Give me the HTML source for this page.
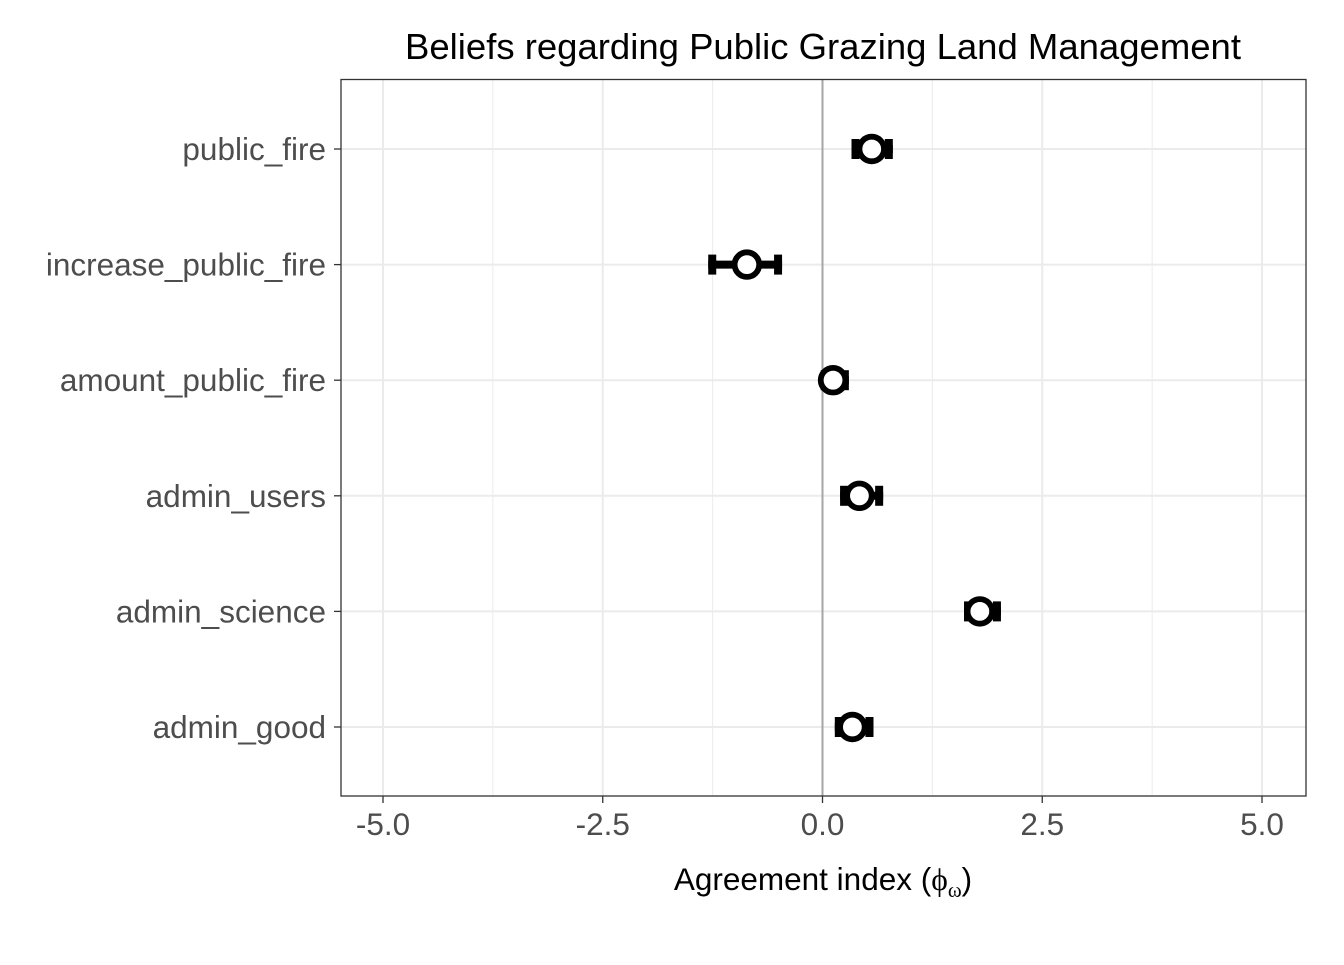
<!DOCTYPE html>
<html><head><meta charset="utf-8"><style>
body{margin:0;background:#fff}
svg text{font-family:"Liberation Sans",sans-serif}
</style></head><body>
<svg id="chart" width="1344" height="960">
<text x="823" y="59" font-size="36.5" text-anchor="middle" fill="#000">Beliefs regarding Public Grazing Land Management</text>
<g id="grid"></g>
<g id="marks"></g>
<rect x="341" y="79.5" width="965" height="716.5" fill="none" stroke="#333" stroke-width="1.3"/>
<text x="823" y="890" font-size="31.5" text-anchor="middle" fill="#000">Agreement index (<tspan font-family="Liberation Serif">ϕ</tspan><tspan font-family="Liberation Serif" font-size="21" dy="7">ω</tspan><tspan dy="-7">)</tspan></text>
</svg>
<script>
const categories=["public_fire","increase_public_fire","amount_public_fire","admin_users","admin_science","admin_good"];
const estimates=[0.56,-0.86,0.12,0.42,1.79,0.34];
const lowers=[0.33,-1.30,-0.02,0.20,1.61,0.14];
const uppers=[0.80,-0.46,0.30,0.69,2.03,0.58];
const xTicks=[-5,-2.5,0,2.5,5];
const xTickLabels=["-5.0","-2.5","0.0","2.5","5.0"];
const ns="http://www.w3.org/2000/svg";
const X=v=>822.5+v*87.9;
const Y=i=>149+i*115.6;
const grid=document.getElementById('grid'),marks=document.getElementById('marks');
function mk(p,tag,a){const e=document.createElementNS(ns,tag);for(const k in a)e.setAttribute(k,a[k]);p.appendChild(e);return e;}
[-3.75,-1.25,1.25,3.75].forEach(v=>{const l=mk(grid,'line',{x1:X(v),x2:X(v),y1:80,y2:796,stroke:'#ebebeb','stroke-width':1});

});
xTicks.forEach((v,i)=>{const l=mk(grid,'line',{x1:X(v),x2:X(v),y1:80,y2:796,stroke:'#ebebeb','stroke-width':2});


const t=mk(grid,'line',{x1:X(v),x2:X(v),y1:796,y2:803,stroke:'#333','stroke-width':1.3});


const tx=mk(grid,'text',{x:X(v),y:835,'font-size':31.5,'text-anchor':'middle',fill:'#4d4d4d'});tx.textContent=xTickLabels[i];

});
categories.forEach((c,i)=>{const y=Y(i);
const g=mk(grid,'line',{x1:341,x2:1306,y1:y,y2:y,stroke:'#ebebeb','stroke-width':2});


const t=mk(grid,'line',{x1:334,x2:341,y1:y,y2:y,stroke:'#333','stroke-width':1.3});


const tx=mk(grid,'text',{x:326,y:y+11,'font-size':31.5,'text-anchor':'end',fill:'#4d4d4d'});tx.textContent=c;

});
const z=mk(grid,'line',{x1:X(0),x2:X(0),y1:80,y2:796,stroke:'#a6a6a6','stroke-width':2});


categories.forEach((c,i)=>{const y=Y(i);
const g=mk(marks,'g',{});


mk(g,'line',{x1:X(lowers[i]),x2:X(uppers[i]),y1:y,y2:y,stroke:'#000','stroke-width':8});
mk(g,'line',{x1:X(lowers[i])+4,x2:X(lowers[i])+4,y1:y-10,y2:y+10,stroke:'#000','stroke-width':8});
mk(g,'line',{x1:X(uppers[i])-4,x2:X(uppers[i])-4,y1:y-10,y2:y+10,stroke:'#000','stroke-width':8});
mk(g,'circle',{cx:X(estimates[i]),cy:y,r:12.3,fill:'#fff',stroke:'#000','stroke-width':5.8});});
</script>
</body></html>
